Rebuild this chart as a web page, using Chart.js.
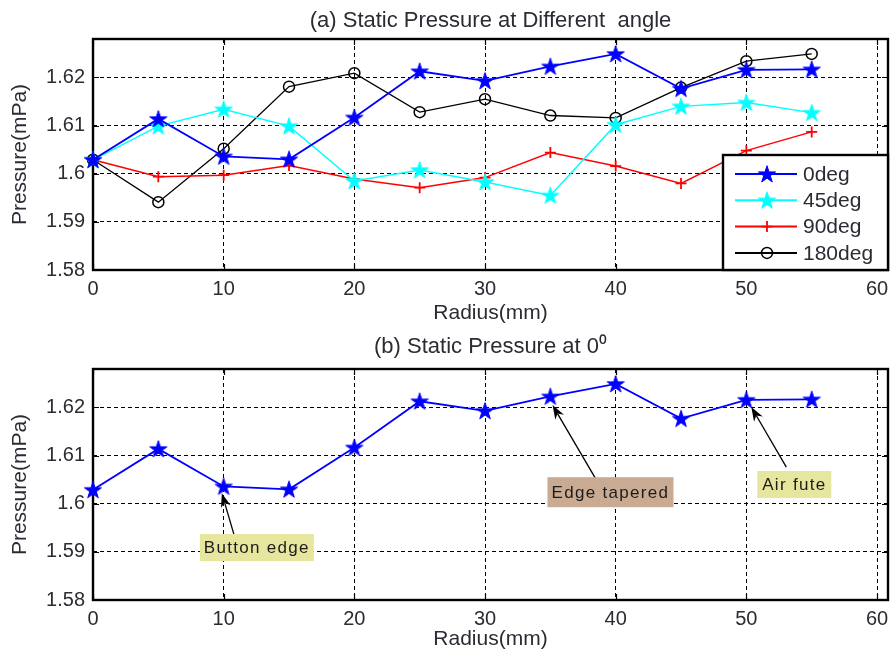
<!DOCTYPE html>
<html><head><meta charset="utf-8">
<script src="https://cdn.jsdelivr.net/npm/chart.js@4.4.0/dist/chart.umd.min.js"></script>
<style>
html,body{margin:0;padding:0;background:#fff;}
#wrap{position:relative;width:892px;height:656px;overflow:hidden;}
#c1{position:absolute;left:0;top:0;}
#c2{position:absolute;left:0;top:330px;}
</style></head><body>
<div id="wrap">
<canvas id="c1" width="892" height="330"></canvas>
<canvas id="c2" width="892" height="326"></canvas>
</div>
<script>
// ---------- data ----------
const radius = [0,5,10,15,20,25,30,35,40,45,50,55];
const p0deg   = [1.6029,1.6114,1.6036,1.6030,1.6117,1.6213,1.6193,1.6223,1.6249,1.6177,1.6216,1.6217];
const p45deg  = [1.6029,1.6099,1.6134,1.6099,1.5985,1.6008,1.5983,1.5955,1.6102,1.6140,1.6148,1.6127];
const p90deg  = [1.6029,1.5994,1.5997,1.6017,1.5989,1.5971,1.5992,1.6044,1.6016,1.5980,1.6048,1.6087];
const p180deg = [1.6029,1.5941,1.6052,1.6181,1.6209,1.6128,1.6155,1.6121,1.6116,1.6179,1.6234,1.6249];
const seriesNames = ['0deg','45deg','90deg','180deg'];
const xTicks = [0,10,20,30,40,50,60];
const xTickLabels = ['0','10','20','30','40','50','60'];
const yTicks = [1.58,1.59,1.60,1.61,1.62];
const yTickLabels = ['1.58','1.59','1.6','1.61','1.62'];
const titleA = '(a) Static Pressure at Different  angle';
const titleB = '(b) Static Pressure at 0\u2070';
const xLabel = 'Radius(mm)';
const yLabel = 'Pressure(mPa)';
const notes = [
  {text:'Button edge',  fill:'#e6e69e', tip:[9.86,1.6022], tail:[10.78,1.5937], box:[12.54,1.5909], w:114, h:27},
  {text:'Edge tapered', fill:'#c9ab93', tip:[35.17,1.6205], tail:[38.53,1.6049], box:[39.6,1.6024], w:126, h:30},
  {text:'Air fute',     fill:'#e6e69e', tip:[50.38,1.6201], tail:[53.06,1.6076], box:[53.67,1.6040], w:74, h:27}
];

// ---------- styling ----------
const FONT = '"Liberation Sans", Arial, Helvetica, sans-serif';
const TXT = '#2e2a33';

function starImg(color){
  const s=20, c=document.createElement('canvas'); c.width=s; c.height=s;
  const g=c.getContext('2d'); const R=9, r=R*0.382;
  g.beginPath();
  for(let k=0;k<10;k++){
    const ang=-Math.PI/2 + k*Math.PI/5, rr=(k%2)?r:R;
    g.lineTo(s/2+rr*Math.cos(ang), s/2+0.7+rr*Math.sin(ang));
  }
  g.closePath(); g.fillStyle=color; g.fill(); g.lineWidth=1; g.strokeStyle=color; g.stroke();
  return c;
}
const blueStar = starImg('#0000ff');
const cyanStar = starImg('#00ffff');

function pts(ys){ return radius.map((x,i)=>({x:x, y:ys[i]})); }

function mkDataset(label, ys, color, style, lw, r){
  return {label, data:pts(ys), borderColor:color, backgroundColor:'rgba(0,0,0,0)',
    pointBorderColor:color, pointBackgroundColor:'rgba(0,0,0,0)', pointStyle:style,
    pointRadius:r, pointBorderWidth:(style==='cross'?1.8:1.5), borderWidth:lw, tension:0, clip:false,
    pointHoverRadius:r};
}

function scales(xAxisH){
  return {
    x:{type:'linear', min:0, max:60.84,
      afterBuildTicks:s=>{ s.ticks = xTicks.map(v=>({value:v})); },
      afterFit:s=>{ s.height = xAxisH; s.paddingLeft = 0; s.paddingRight = 0; },
      ticks:{callback:(v,i)=>xTickLabels[i], color:TXT, font:{family:FONT,size:20}, padding:7, maxRotation:0, autoSkip:false},
      grid:{color:'#000', lineWidth:1, drawTicks:false},
      border:{display:false, dash:[4,3]},
      title:{display:true, text:xLabel, color:TXT, font:{family:FONT,size:21}, padding:{top:0,bottom:4}}
    },
    y:{type:'linear', min:1.58, max:1.628,
      afterBuildTicks:s=>{ s.ticks = yTicks.map(v=>({value:v})); },
      afterFit:s=>{ s.width = 93; s.paddingTop = 0; s.paddingBottom = 0; },
      ticks:{callback:(v,i)=>yTickLabels[i], color:TXT, font:{family:FONT,size:20}, padding:8, autoSkip:false},
      grid:{color:'#000', lineWidth:1, drawTicks:false},
      border:{display:false, dash:[4,3]},
      title:{display:true, text:yLabel, color:TXT, font:{family:FONT,size:21}, padding:{top:8,bottom:0}}
    }
  };
}

function drawMarker(ctx, ds, x, y){
  const st = ds.pointStyle;
  ctx.save();
  if (st instanceof HTMLCanvasElement){
    ctx.drawImage(st, x-st.width/2, y-st.height/2);
  } else if (st==='cross'){
    ctx.strokeStyle=ds.pointBorderColor; ctx.lineWidth=ds.pointBorderWidth;
    ctx.beginPath(); ctx.moveTo(x-ds.pointRadius,y); ctx.lineTo(x+ds.pointRadius,y);
    ctx.moveTo(x,y-ds.pointRadius); ctx.lineTo(x,y+ds.pointRadius); ctx.stroke();
  } else {
    ctx.strokeStyle=ds.pointBorderColor; ctx.lineWidth=ds.pointBorderWidth;
    ctx.beginPath(); ctx.arc(x,y,ds.pointRadius,0,Math.PI*2); ctx.stroke();
  }
  ctx.restore();
}

const framePlugin = {id:'frame', beforeDatasetsDraw(chart){
  const ctx=chart.ctx, a=chart.chartArea, xs=chart.scales.x, ys=chart.scales.y;
  ctx.save();
  ctx.strokeStyle='#000'; ctx.lineWidth=1.2; ctx.setLineDash([]);
  ctx.beginPath();
  xTicks.forEach(v=>{ const px=Math.round(xs.getPixelForValue(v))+0.5;
    ctx.moveTo(px,a.bottom); ctx.lineTo(px,a.bottom-6); ctx.moveTo(px,a.top); ctx.lineTo(px,a.top+6); });
  yTicks.forEach(v=>{ const py=Math.round(ys.getPixelForValue(v))+0.5;
    ctx.moveTo(a.left,py); ctx.lineTo(a.left+6,py); ctx.moveTo(a.right,py); ctx.lineTo(a.right-6,py); });
  ctx.stroke();
  ctx.lineWidth=2.4;
  ctx.strokeRect(a.left, a.top, a.right-a.left, a.bottom-a.top);
  ctx.restore();
}};

const legendPlugin = {id:'mlegend', afterDraw(chart){
  const ctx=chart.ctx, a=chart.chartArea;
  const w=165, h=115, x0=a.right-w, y0=a.bottom-h;
  ctx.save();
  ctx.fillStyle='#fff'; ctx.fillRect(x0,y0,w,h);
  ctx.strokeStyle='#000'; ctx.lineWidth=2.4; ctx.strokeRect(x0,y0,w,h);
  chart.data.datasets.forEach((ds,i)=>{
    const y=y0+19+i*26.3;
    ctx.strokeStyle=ds.borderColor; ctx.lineWidth=Math.max(ds.borderWidth,2);
    ctx.beginPath(); ctx.moveTo(x0+12,y); ctx.lineTo(x0+74,y); ctx.stroke();
    drawMarker(ctx, ds, x0+44, y);
    ctx.fillStyle=TXT; ctx.font='21px '+FONT; ctx.textAlign='left'; ctx.textBaseline='middle';
    ctx.fillText(ds.label, x0+80, y+1);
  });
  ctx.restore();
}};

const notePlugin = {id:'notes', afterDraw(chart){
  const ctx=chart.ctx, xs=chart.scales.x, ys=chart.scales.y;
  ctx.save();
  notes.forEach(n=>{
    const tx=xs.getPixelForValue(n.tip[0]), ty=ys.getPixelForValue(n.tip[1]);
    const sx=xs.getPixelForValue(n.tail[0]), sy=ys.getPixelForValue(n.tail[1]);
    const bx=xs.getPixelForValue(n.box[0]), by=ys.getPixelForValue(n.box[1]);
    const ang=Math.atan2(ty-sy, tx-sx), L=14, W=5;
    ctx.strokeStyle='#000'; ctx.lineWidth=1.3;
    ctx.beginPath(); ctx.moveTo(sx,sy); ctx.lineTo(tx-Math.cos(ang)*L*0.7, ty-Math.sin(ang)*L*0.7); ctx.stroke();
    ctx.fillStyle='#000'; ctx.beginPath();
    ctx.moveTo(tx,ty);
    ctx.lineTo(tx-Math.cos(ang)*L-Math.sin(ang)*W, ty-Math.sin(ang)*L+Math.cos(ang)*W);
    ctx.lineTo(tx-Math.cos(ang)*L*0.7, ty-Math.sin(ang)*L*0.7);
    ctx.lineTo(tx-Math.cos(ang)*L+Math.sin(ang)*W, ty-Math.sin(ang)*L-Math.cos(ang)*W);
    ctx.closePath(); ctx.fill();
    ctx.fillStyle=n.fill; ctx.fillRect(bx-n.w/2, by-n.h/2, n.w, n.h);
    ctx.fillStyle='#1c1c1c'; ctx.font='17px '+FONT; ctx.textAlign='center'; ctx.textBaseline='middle';
    try{ ctx.letterSpacing='1.3px'; }catch(e){}
    ctx.fillText(n.text, bx, by+1);
    try{ ctx.letterSpacing='0px'; }catch(e){}
  });
  ctx.restore();
}};

function titleOpts(text, top, bottom){
  return {display:true, text, color:TXT, font:{family:FONT,size:22,weight:'normal'}, fullSize:false,
          padding:{top:top,bottom:bottom}};
}

new Chart(document.getElementById('c1'), {
  type:'line',
  data:{datasets:[
    mkDataset(seriesNames[0], p0deg, '#0000ff', blueStar, 1.8, 9),
    mkDataset(seriesNames[1], p45deg, '#00ffff', cyanStar, 1.5, 9),
    mkDataset(seriesNames[2], p90deg, '#ff0000', 'cross', 1.5, 5.5),
    mkDataset(seriesNames[3], p180deg, '#000000', 'circle', 1.3, 5.5)
  ]},
  options:{responsive:false, animation:false, devicePixelRatio:1,
    layout:{autoPadding:false, padding:{left:0,right:4,top:0,bottom:0}},
    plugins:{legend:{display:false}, tooltip:{enabled:false}, title:titleOpts(titleA, 8, 4.6)},
    scales:scales(60)},
  plugins:[framePlugin, legendPlugin]
});

new Chart(document.getElementById('c2'), {
  type:'line',
  data:{datasets:[
    mkDataset(seriesNames[0], p0deg, '#0000ff', blueStar, 1.8, 9)
  ]},
  options:{responsive:false, animation:false, devicePixelRatio:1,
    layout:{autoPadding:false, padding:{left:0,right:4,top:0,bottom:0}},
    plugins:{legend:{display:false}, tooltip:{enabled:false}, title:titleOpts(titleB, 4, 8.6)},
    scales:scales(56)},
  plugins:[framePlugin, notePlugin]
});
</script>
</body></html>
